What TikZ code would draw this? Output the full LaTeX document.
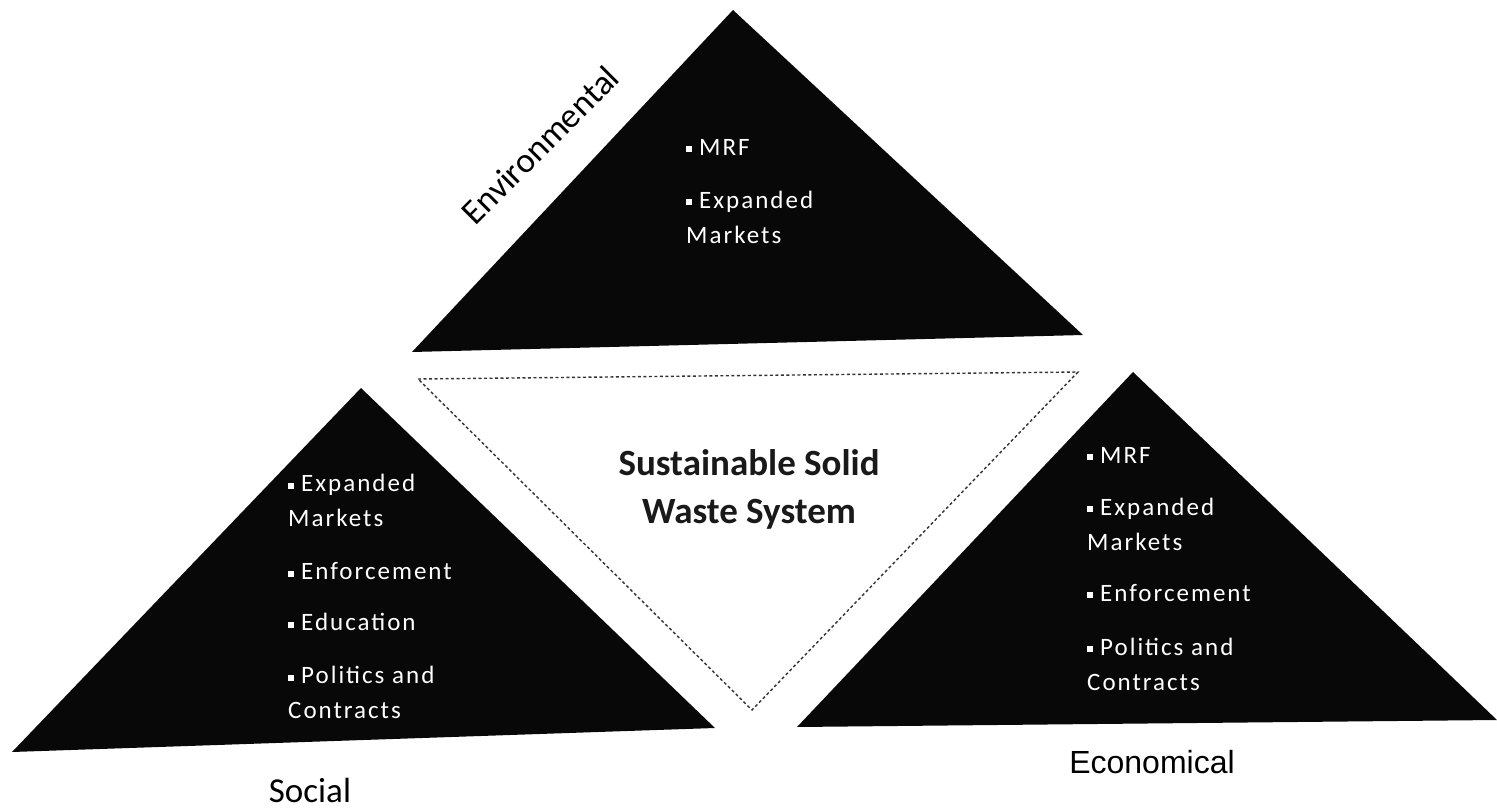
\documentclass[tikz,border=0pt]{standalone}
\usepackage{fontspec}
\setmainfont{Carlito}
\newfontfamily\itemfont[LetterSpace=8]{Carlito}
\newfontfamily\econfont{Liberation Sans}
\usepackage{tikz}
\usetikzlibrary{positioning,calc}
\definecolor{triblack}{RGB}{8,8,8}
\definecolor{coretext}{RGB}{25,25,25}
\newcommand{\sqb}{\rule[3pt]{6pt}{6pt}\hspace{7pt}}

\begin{document}
\begin{tikzpicture}[x=1pt, y=-1pt,
  tri/.style={fill=triblack},
  core/.style={fill=white, draw=black!80, line width=1.4pt, dash pattern=on 3pt off 2.5pt},
  items/.style={font=\itemfont\fontsize{25}{35}\selectfont, text=white, align=left,
                anchor=north west, inner sep=0pt},
  label/.style={font=\fontsize{35}{40}\selectfont, text=black, inner sep=0pt}
]
  \useasboundingbox (0,0) rectangle (1497,808);
  % corners of the four triangles
  \coordinate (envtop) at (733,10);
  \coordinate (envleft) at (412,352);
  \coordinate (envright) at (1083,335);
  \coordinate (soctop) at (361,388);
  \coordinate (socleft) at (12,752);
  \coordinate (socright) at (715,728);
  \coordinate (ecotop) at (1133,372);
  \coordinate (ecoleft) at (797,727);
  \coordinate (ecoright) at (1497,720);
  \coordinate (coreleft) at (418,379);
  \coordinate (coreright) at (1078,372);
  \coordinate (corebottom) at (752,710);

  \fill[tri] (envtop) -- (envleft) -- (envright) -- cycle;
  \fill[tri] (soctop) -- (socleft) -- (socright) -- cycle;
  \fill[tri] (ecotop) -- (ecoleft) -- (ecoright) -- cycle;
  \draw[core] (coreleft) -- (coreright) -- (corebottom) -- cycle;

  % texts inside
  \node[items] (envitems) at (686,139) {\sqb MRF\\[18pt]\sqb Expanded\\Markets};
  \node[items] (socitems) at (288,474) {\sqb Expanded\\Markets\\[18pt]
    \sqb Enforcement\\[16pt]\sqb Education\\[18pt]\sqb Politics and\\Contracts};
  \node[items] (ecoitems) at (1087,447) {\sqb MRF\\[17pt]\sqb Expanded\\Markets\\[16pt]
    \sqb Enforcement\\[19pt]\sqb Politics and\\Contracts};
  \node[font=\bfseries\fontsize{37}{48}\selectfont, text=coretext, align=center]
    (coretitle) at (749,489) {Sustainable Solid\\Waste System};

  % names of the three sides
  \node[label, rotate=45] (envname) at (540,145) {Environmental};
  \node[label] (socname) at (310,790) {Social};
  \node[label, font=\econfont\fontsize{32}{38}\selectfont] (econame) at (1152,762) {Economical};
\end{tikzpicture}
\end{document}
